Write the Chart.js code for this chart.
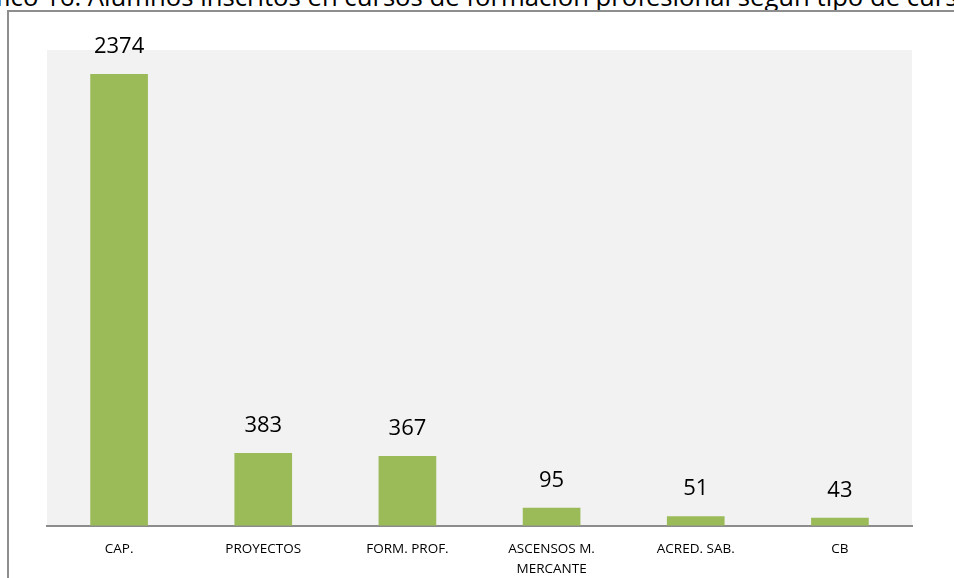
<!DOCTYPE html>
<html>
<head>
<meta charset="utf-8">
<script src="https://cdn.jsdelivr.net/npm/chart.js@4"></script>
<style>
  html, body { margin: 0; padding: 0; background: #fff; overflow: hidden; }
  #wrap { position: relative; width: 954px; height: 578px; overflow: hidden; }
  #titulo {
    position: absolute; left: -48px; top: -16px; white-space: nowrap;
    font-family: 'Open Sans', sans-serif; font-size: 25.7px; line-height: 25.7px; color: #000;
  }
  #marco {
    position: absolute; left: 7px; top: 10px; width: 1000px; height: 620px;
    border: 2px solid #8e8e8e; box-sizing: border-box;
  }
  #grafico { position: absolute; left: 0; top: 0; }
</style>
</head>
<body>
<div id="wrap">
  <div id="titulo">Gráfico 16: Alumnos inscritos en cursos de formación profesional según tipo de curso</div>
  <div id="marco"></div>
  <canvas id="grafico" width="954" height="595"></canvas>
</div>
<script>
// datos
const categorias = ['CAP.', 'PROYECTOS', 'FORM. PROF.', ['ASCENSOS M.', 'MERCANTE'], 'ACRED. SAB.', 'CB'];
const alumnos = [2374, 383, 367, 95, 51, 43];
const ejeMax = 2500;

const fondoArea = {
  id: 'fondoArea',
  beforeDraw(chart) {
    const { ctx, chartArea: a } = chart;
    ctx.save();
    ctx.fillStyle = '#f2f2f2';
    ctx.fillRect(a.left, a.top, a.right - a.left, a.bottom - a.top);
    ctx.restore();
  }
};

const etiquetas = {
  id: 'etiquetas',
  afterDatasetsDraw(chart) {
    const { ctx } = chart;
    const meta = chart.getDatasetMeta(0);
    ctx.save();
    ctx.font = '22px "Open Sans", sans-serif';
    ctx.fillStyle = '#000';
    ctx.textAlign = 'center';
    ctx.textBaseline = 'middle';
    meta.data.forEach((bar, i) => {
      ctx.fillText(String(alumnos[i]), bar.x, bar.y - 27);
    });
    ctx.restore();
  }
};

new Chart(document.getElementById('grafico'), {
  type: 'bar',
  data: {
    labels: categorias,
    datasets: [{
      data: alumnos,
      backgroundColor: '#9bbb59',
      borderWidth: 0,
      barPercentage: 0.4,
      categoryPercentage: 1
    }]
  },
  options: {
    responsive: false,
    animation: false,
    layout: { padding: { left: 47, right: 42, top: 50, bottom: 2 } },
    plugins: { legend: { display: false }, tooltip: { enabled: false } },
    scales: {
      y: { display: false, min: 0, max: ejeMax },
      x: {
        grid: { display: false, drawTicks: false, tickLength: 0 },
        border: { display: true, color: '#8c8c8c', width: 2 },
        ticks: {
          color: '#000',
          padding: 14,
          maxRotation: 0,
          autoSkip: false,
          font: { family: 'Open Sans', size: 13.5, lineHeight: 1.45 }
        }
      }
    }
  },
  plugins: [fondoArea, etiquetas]
});
</script>
</body>
</html>
